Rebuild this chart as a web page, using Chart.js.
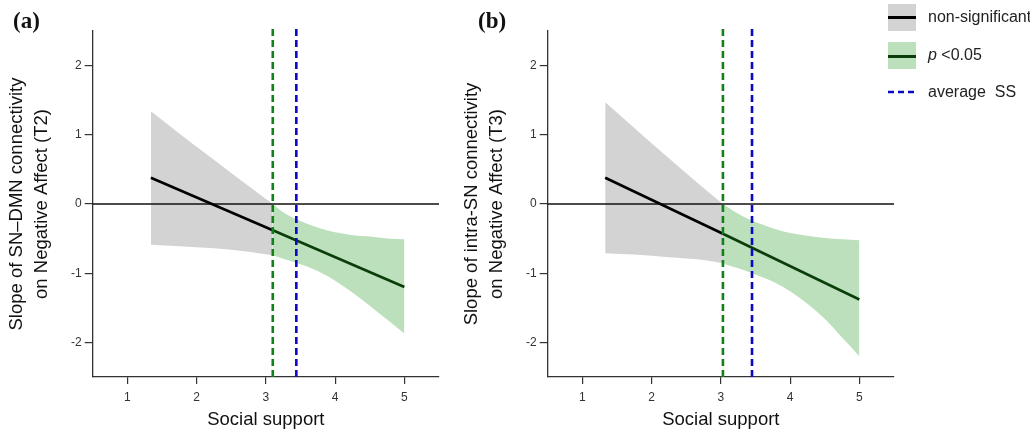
<!DOCTYPE html>
<html>
<head>
<meta charset="utf-8">
<script src="https://cdn.jsdelivr.net/npm/chart.js@4.4.1/dist/chart.umd.min.js"></script>
<style>
  body { margin: 0; background: #fff; font-family: Arial, "Liberation Sans", sans-serif; }
  #wrap { position: relative; width: 1030px; height: 433px; overflow: hidden; }
  .panel { position: absolute; top: 0; width: 450px; height: 433px; }
  .tag { position: absolute; top: 8px; font: bold 23px "Liberation Serif", "Times New Roman", serif; color: #111; }
  .lg { position: absolute; left: 888px; width: 28px; }
  .lgtext { position: absolute; left: 928px; font-size: 16px; color: #222; line-height: 20px; white-space: nowrap; }
</style>
</head>
<body>
<div id="wrap">
  <div class="panel" style="left:0px"><canvas id="chartA" width="450" height="433"></canvas></div>
  <div class="panel" style="left:455px"><canvas id="chartB" width="450" height="433"></canvas></div>
  <div class="tag" style="left:13px">(a)</div>
  <div class="tag" style="left:478px">(b)</div>

  <div class="lg" style="top:4px;height:27px;background:#d3d3d3"><div style="position:absolute;left:0;top:12px;width:28px;height:2.5px;background:#000"></div></div>
  <div class="lgtext" style="top:7px">non-significant</div>
  <div class="lg" style="top:42px;height:27px;background:#bbe0bb"><div style="position:absolute;left:0;top:13px;width:28px;height:2.5px;background:#0b3d0b"></div></div>
  <div class="lgtext" style="top:45px"><i>p</i> &lt;0.05</div>
  <svg class="lg" style="top:86px" width="28" height="12"><line x1="0" y1="6" x2="28" y2="6" stroke="#0a0ac4" stroke-width="2.5" stroke-dasharray="6,4"/></svg>
  <div class="lgtext" style="top:82px">average&nbsp; SS</div>
</div>
<script>
// x ticks / y ticks
const xTicks = [1, 2, 3, 4, 5];
const yTicks = [-2, -1, 0, 1, 2];

// panel (a): SN-DMN, T2
const aGrayX = [1.34, 1.75, 2.25, 2.75, 3.1];
const aGrayUpper = [1.34, 1.02, 0.64, 0.26, 0.0];
const aGrayLower = [-0.59, -0.61, -0.64, -0.69, -0.74];
const aGreenX = [3.1, 3.25, 3.44, 3.75, 4, 4.25, 4.5, 4.75, 5];
const aGreenUpper = [0.0, -0.12, -0.22, -0.34, -0.41, -0.45, -0.47, -0.5, -0.51];
const aGreenLower = [-0.74, -0.79, -0.85, -0.97, -1.11, -1.28, -1.47, -1.67, -1.87];
const aLineX = [1.34, 3.1, 5];
const aLineY = [0.38, -0.38, -1.2];
const aJN = 3.1;
const aMeanSS = 3.44;

// panel (b): intra-SN, T3
const bGrayX = [1.33, 1.75, 2.25, 2.75, 3.03];
const bGrayUpper = [1.47, 1.1, 0.66, 0.23, 0.0];
const bGrayLower = [-0.71, -0.73, -0.77, -0.81, -0.86];
const bGreenX = [3.03, 3.25, 3.45, 3.75, 4, 4.25, 4.5, 4.75, 5];
const bGreenUpper = [0.0, -0.14, -0.24, -0.35, -0.42, -0.46, -0.49, -0.51, -0.525];
const bGreenLower = [-0.86, -0.93, -1.0, -1.12, -1.26, -1.44, -1.66, -1.93, -2.2];
const bLineX = [1.33, 3.03, 5];
const bLineY = [0.38, -0.43, -1.38];
const bJN = 3.03;
const bMeanSS = 3.45;

const FONT = 'Arial, "Liberation Sans", sans-serif';

function pts(xs, ys) {
  return xs.map((x, i) => ({ x: x, y: ys[i] }));
}

function makePanel(id, p, yTitle) {
  const jnIdx = p.lineX.indexOf(p.jn);
  const band = { borderWidth: 0, pointRadius: 0, cubicInterpolationMode: "monotone", order: 20 };
  const ctx = document.getElementById(id).getContext("2d");
  new Chart(ctx, {
    type: "line",
    data: {
      datasets: [
        { ...band, data: pts(p.grayX, p.grayUpper), fill: false },
        { ...band, data: pts(p.grayX, p.grayLower), fill: "-1", backgroundColor: "#d3d3d3" },
        { ...band, data: pts(p.greenX, p.greenUpper), fill: false },
        { ...band, data: pts(p.greenX, p.greenLower), fill: "-1", backgroundColor: "#bbe0bb" },
        { data: [{ x: 0.5, y: 0 }, { x: 5.5, y: 0 }], borderColor: "#111", borderWidth: 1.3, pointRadius: 0, order: 10 },
        { data: pts(p.lineX.slice(0, jnIdx + 1), p.lineY.slice(0, jnIdx + 1)), borderColor: "#000", borderWidth: 2.6, pointRadius: 0, order: 5 },
        { data: pts(p.lineX.slice(jnIdx), p.lineY.slice(jnIdx)), borderColor: "#0b3d0b", borderWidth: 2.6, pointRadius: 0, order: 5 },
        { data: [{ x: p.jn, y: -2.5 }, { x: p.jn, y: 2.55 }], borderColor: "#13801a", borderWidth: 2.6, borderDash: [7, 4], pointRadius: 0, order: 1 },
        { data: [{ x: p.mean, y: -2.5 }, { x: p.mean, y: 2.55 }], borderColor: "#0a0ac4", borderWidth: 2.6, borderDash: [7, 4], pointRadius: 0, order: 1 }
      ]
    },
    options: {
      responsive: false,
      animation: false,
      layout: { padding: { left: 0, right: 11, top: 31, bottom: 0 } },
      elements: { line: { tension: 0 } },
      datasets: { line: { clip: false } },
      plugins: { legend: { display: false }, tooltip: { enabled: false } },
      scales: {
        x: {
          type: "linear",
          min: 0.5,
          max: 5.5,
          afterBuildTicks: s => { s.ticks = xTicks.map(v => ({ value: v })); },
          afterFit: s => { s.height = 56; },
          grid: { drawOnChartArea: false, drawTicks: true, tickLength: 7, color: "#333", lineWidth: 1.2 },
          border: { display: true, color: "#333", width: 1.3 },
          ticks: { color: "#333", font: { family: FONT, size: 12 }, padding: 6 },
          title: { display: true, text: "Social support", color: "#111", font: { family: FONT, size: 18.5 }, padding: { top: 0, bottom: 2 } }
        },
        y: {
          type: "linear",
          min: -2.5,
          max: 2.5,
          afterBuildTicks: s => { s.ticks = yTicks.map(v => ({ value: v })); },
          afterFit: s => { s.width = 92.7; },
          grid: { drawOnChartArea: false, drawTicks: true, tickLength: 8, color: "#333", lineWidth: 1.2 },
          border: { display: true, color: "#333", width: 1.3 },
          ticks: { color: "#333", font: { family: FONT, size: 12 }, padding: 3 },
          title: { display: true, text: yTitle, color: "#111", font: { family: FONT, size: 18.5, lineHeight: 1.33 }, padding: { top: 5, bottom: 0 } }
        }
      }
    }
  });
}

makePanel("chartA", {
  grayX: aGrayX, grayUpper: aGrayUpper, grayLower: aGrayLower,
  greenX: aGreenX, greenUpper: aGreenUpper, greenLower: aGreenLower,
  lineX: aLineX, lineY: aLineY, jn: aJN, mean: aMeanSS
}, ["Slope of SN\u2013DMN connectivity", "on Negative Affect (T2)"]);

makePanel("chartB", {
  grayX: bGrayX, grayUpper: bGrayUpper, grayLower: bGrayLower,
  greenX: bGreenX, greenUpper: bGreenUpper, greenLower: bGreenLower,
  lineX: bLineX, lineY: bLineY, jn: bJN, mean: bMeanSS
}, ["Slope of intra-SN connectivity", "on Negative Affect (T3)"]);
</script>
</body>
</html>
